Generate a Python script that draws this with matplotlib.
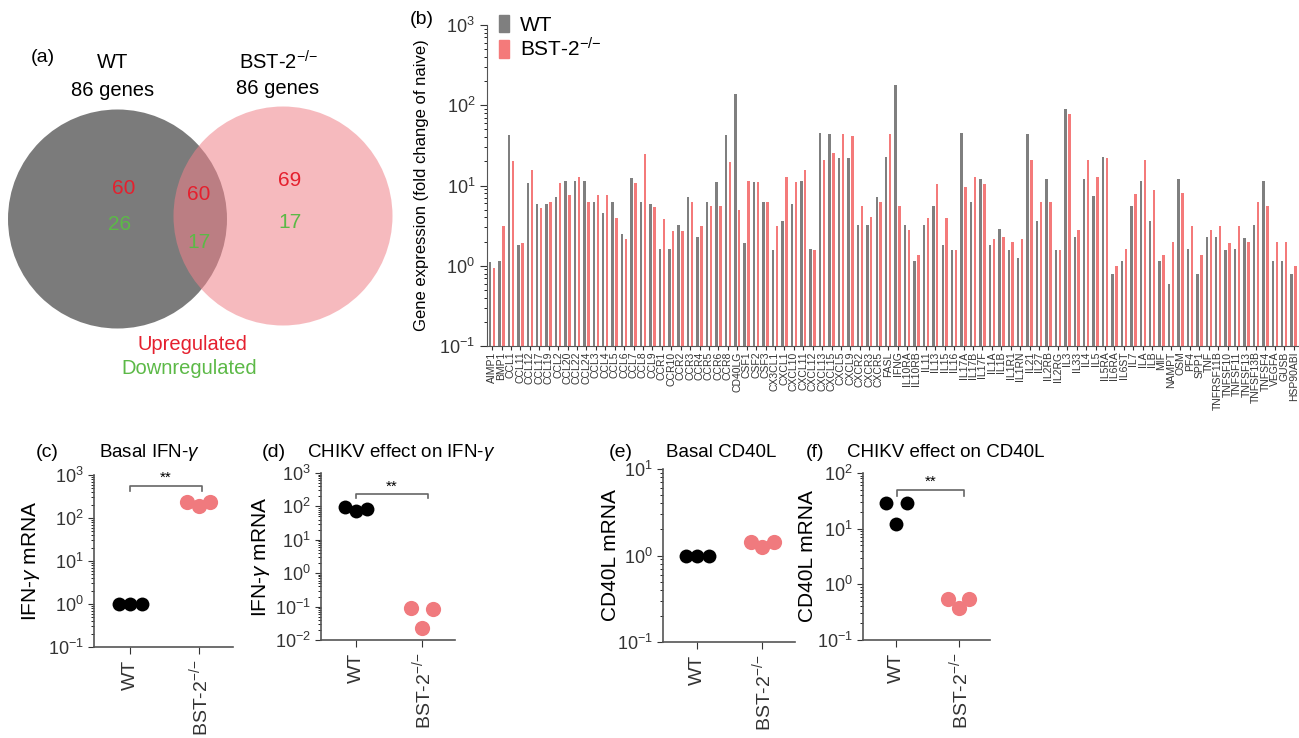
import numpy as np
import matplotlib
matplotlib.use('Agg')
import matplotlib.pyplot as plt
from matplotlib.patches import Circle, Patch

plt.rcParams['font.family'] = ['Liberation Sans', 'DejaVu Sans']
plt.rcParams['mathtext.fontset'] = 'custom'
plt.rcParams['mathtext.rm'] = 'Liberation Sans'
plt.rcParams['mathtext.it'] = 'Liberation Sans:italic'
plt.rcParams['mathtext.bf'] = 'Liberation Sans:bold'

BST = r'BST-2$^{{-}/{-}}$'

# (a) venn counts: WT only, shared, BST-2-/- only
venn_up = [60, 60, 69]
venn_down = [26, 17, 17]

# (b) fold change of naive
genes = ['AIMP1', 'BMP1', 'CCL1', 'CCL11', 'CCL12', 'CCL17', 'CCL19', 'CCL2', 'CCL20', 'CCL22',
         'CCL24', 'CCL3', 'CCL4', 'CCL5', 'CCL6', 'CCL7', 'CCL8', 'CCL9', 'CCR1', 'CCR10',
         'CCR2', 'CCR3', 'CCR4', 'CCR5', 'CCR6', 'CCR8', 'CD40LG', 'CSF1', 'CSF2', 'CSF3',
         'CX3CL1', 'CXCL1', 'CXCL10', 'CXCL11', 'CXCL12', 'CXCL13', 'CXCL15', 'CXCL5', 'CXCL9', 'CXCR2',
         'CXCR3', 'CXCR5', 'FASL', 'IFNG', 'IL10RA', 'IL10RB', 'IL11', 'IL13', 'IL15', 'IL16',
         'IL17A', 'IL17B', 'IL17F', 'IL1A', 'IL1B', 'IL1R1', 'IL1RN', 'IL21', 'IL27', 'IL2RB',
         'IL2RG', 'IL3', 'IL33', 'IL4', 'IL5', 'IL5RA', 'IL6RA', 'IL6ST', 'IL7', 'ILA',
         'ILB', 'MIF', 'NAMPT', 'OSM', 'PF4', 'SPP1', 'TNF', 'TNFRSF11B', 'TNFSF10', 'TNFSF11',
         'TNFSF13', 'TNFSF13B', 'TNFSF4', 'VEGFA', 'GUSB', 'HSP90ABI']
wt_fold = [1.1, 1.15, 43, 1.8, 10.8, 5.8, 5.8, 7.2, 11.3, 11.5,
           11.3, 6.2, 4.5, 6.2, 2.5, 12.5, 6.2, 5.9, 1.6, 1.6,
           3.2, 7.2, 2.3, 6.2, 11, 43, 140, 1.9, 11, 6.3,
           1.55, 3.6, 5.8, 11.5, 1.6, 45, 44, 22, 22, 3.2,
           3.2, 7.2, 22.5, 180, 3.2, 1.13, 3.2, 5.6, 1.8, 1.55,
           45, 6.3, 12, 1.8, 2.9, 1.55, 1.25, 44, 3.6, 12,
           1.55, 89, 2.25, 12, 7.3, 22.5, 0.78, 1.15, 5.6, 11.3,
           3.6, 1.13, 0.6, 12, 1.6, 0.78, 2.3, 2.3, 1.55, 1.6,
           2.2, 3.2, 11.3, 1.13, 1.13, 0.78]
bst_fold = [0.95, 3.15, 20, 1.9, 15.8, 5.3, 6.2, 10.8, 7.7, 12.7,
            6.2, 7.7, 7.7, 3.9, 2.15, 10.8, 24.5, 5.4, 3.8, 2.7,
            2.7, 6.2, 3.1, 5.5, 5.5, 19.5, 5.0, 11.5, 11, 6.2,
            3.1, 12.7, 11, 15.8, 1.55, 20.5, 25.5, 44, 41, 5.5,
            4.0, 6.2, 44, 5.5, 2.75, 1.35, 3.9, 10.3, 3.9, 1.55,
            9.5, 12.7, 10.3, 2.15, 2.3, 2.0, 2.15, 21, 6.2, 6.3,
            1.55, 77, 2.75, 21, 12.7, 22, 0.98, 1.6, 7.9, 20.5,
            8.7, 1.37, 2.0, 8.1, 3.1, 1.37, 2.75, 3.1, 1.9, 3.1,
            2.0, 6.2, 5.5, 2.0, 2.0, 0.98]

# (c)-(f) mRNA, three mice per group
groups = ['WT', BST]
basal_ifng = ([1.0, 1.0, 1.0], [230, 190, 230])
chikv_ifng = ([96, 73, 83], [0.091, 0.023, 0.085])
basal_cd40l = ([1.0, 1.0, 1.0], [1.43, 1.25, 1.43])
chikv_cd40l = ([29, 12.1, 29], [0.55, 0.38, 0.55])

W, H = 1299, 738
fig = plt.figure(figsize=(W / 100, H / 100), dpi=100)


def px(x, y):
    return x / W, 1 - y / H


def rect(x0, y0, x1, y1):
    return [x0 / W, 1 - y1 / H, (x1 - x0) / W, (y1 - y0) / H]


RED = '#e5202e'
GREEN = '#5cb947'
GRAY = '#7f7f7f'
PINK = '#f47a7a'

# ---------------- (a) venn ----------------
av = fig.add_axes(rect(0, 0, 420, 410))
av.set_xlim(0, 420)
av.set_ylim(410, 0)
av.axis('off')
av.add_patch(Circle((117.5, 219), 109.5, color='#7b7b7b', lw=0))
av.add_patch(Circle((283, 216), 109.5, color='#f0828a', alpha=0.55, lw=0))
av.text(43, 58, '(a)', fontsize=14, ha='center', va='center')
av.text(113, 63, 'WT', fontsize=14.5, ha='center', va='center')
av.text(113, 90, '86 genes', fontsize=14.5, ha='center', va='center')
av.text(278, 62, BST, fontsize=14.5, ha='center', va='center')
av.text(278, 89, '86 genes', fontsize=14.5, ha='center', va='center')
for (xu, yu), (xd, yd), up, dn in zip([(124, 189), (199, 195), (290, 181)],
                                      [(120, 225), (199, 242), (290, 223)],
                                      venn_up, venn_down):
    av.text(xu, yu, str(up), color=RED, fontsize=15, ha='center', va='center')
    av.text(xd, yd, str(dn), color=GREEN, fontsize=15, ha='center', va='center')
av.text(192, 344, 'Upregulated', color=RED, fontsize=14.5, ha='center', va='center')
av.text(189, 368, 'Downregulated', color=GREEN, fontsize=14.5, ha='center', va='center')

# ---------------- (b) bars ----------------
ab = fig.add_axes(rect(487, 25, 1299, 346))
x = np.arange(len(genes))
ab.bar(x - 0.21, wt_fold, width=0.26, color=GRAY, lw=0)
ab.bar(x + 0.21, bst_fold, width=0.26, color=PINK, lw=0)
ab.set_yscale('log')
ab.set_ylim(0.1, 1000)
ab.set_xlim(-0.54, 85.57)
ab.set_xticks(x)
ab.set_xticklabels(genes, rotation=90, fontsize=7.5)
ab.tick_params(axis='x', length=3, width=0.8, pad=1, colors='#333333')
ab.tick_params(axis='y', which='major', length=5, labelsize=13, colors='#333333')
ab.tick_params(axis='y', which='minor', length=2.5)
for s in ['top', 'right']:
    ab.spines[s].set_visible(False)
for s in ['left', 'bottom']:
    ab.spines[s].set_color('#555555')
ab.set_ylabel('Gene expression (fold change of naive)', fontsize=12)
ab.yaxis.set_label_coords(-0.072, 0.5)
fig.text(*px(422, 20), '(b)', fontsize=14, ha='center', va='center')
fig.legend(handles=[Patch(color=GRAY, label='WT'), Patch(color=PINK, label=BST)],
           loc='upper left', bbox_to_anchor=px(499, 15), frameon=False, fontsize=15,
           handlelength=0.5, handleheight=0.9, handletextpad=0.5, labelspacing=0.1,
           borderpad=0, borderaxespad=0)

# ---------------- (c)-(f) dot plots ----------------
jitter = np.array([-0.17, 0.0, 0.17])
panels = [
    ('(c)', 47, 'Basal IFN-$\\gamma$', 149, rect(94, 475, 233, 647), (0.1, 1000),
     basal_ifng, 'IFN-$\\gamma$ mRNA', -0.374, (0.0, 1.04, 555)),
    ('(d)', 274, 'CHIKV effect on IFN-$\\gamma$', 401, rect(321, 473, 455, 640), (0.01, 1000),
     chikv_ifng, 'IFN-$\\gamma$ mRNA', -0.366, (0.0, 1.09, 235)),
    ('(e)', 621, 'Basal CD40L', 721, rect(663, 469, 795, 642), (0.1, 10),
     basal_cd40l, 'CD40L mRNA', -0.326, None),
    ('(f)', 815, 'CHIKV effect on CD40L', 946, rect(863, 473, 990, 640), (0.1, 100),
     chikv_cd40l, 'CD40L mRNA', -0.362, (0.02, 1.08, 49.5)),
]
for tag, tag_x, title, title_x, box, ylim, (wt_vals, bst_vals), ylab, ylab_x, sig in panels:
    ax = fig.add_axes(box)
    ax.scatter(0 + jitter, wt_vals, s=100, color='black', lw=0, zorder=3, clip_on=False)
    ax.scatter(1 + jitter, bst_vals, s=120, color='#f07a7e', lw=0, zorder=3, clip_on=False)
    ax.set_yscale('log')
    ax.set_ylim(*ylim)
    ax.set_xlim(-0.53, 1.5)
    ax.set_xticks([0, 1])
    ax.set_xticklabels(groups, rotation=90, fontsize=14)
    ax.tick_params(axis='x', length=5, colors='#333333', pad=4)
    ax.tick_params(axis='y', which='major', length=4, colors='#333333', labelsize=13)
    ax.tick_params(axis='y', which='minor', length=2)
    for s in ['top', 'right']:
        ax.spines[s].set_visible(False)
    for s in ['left', 'bottom']:
        ax.spines[s].set_color('#555555')
        ax.spines[s].set_linewidth(1.2)
    ax.set_ylabel(ylab, fontsize=15)
    ax.yaxis.set_label_coords(ylab_x, 0.5)
    if sig is not None:
        x0, x1, y = sig
        ax.plot([x0, x0, x1, x1], [y / 1.3, y, y, y / 1.3], color='#666666', lw=1.2)
        ax.text((x0 + x1) / 2, y * 1.05, '**', ha='center', va='bottom', fontsize=11)
    fig.text(*px(tag_x, 453), tag, fontsize=14, ha='center', va='center')
    fig.text(*px(title_x, 453), title, fontsize=13.5, ha='center', va='center')

fig.savefig('out.png', dpi=100)
